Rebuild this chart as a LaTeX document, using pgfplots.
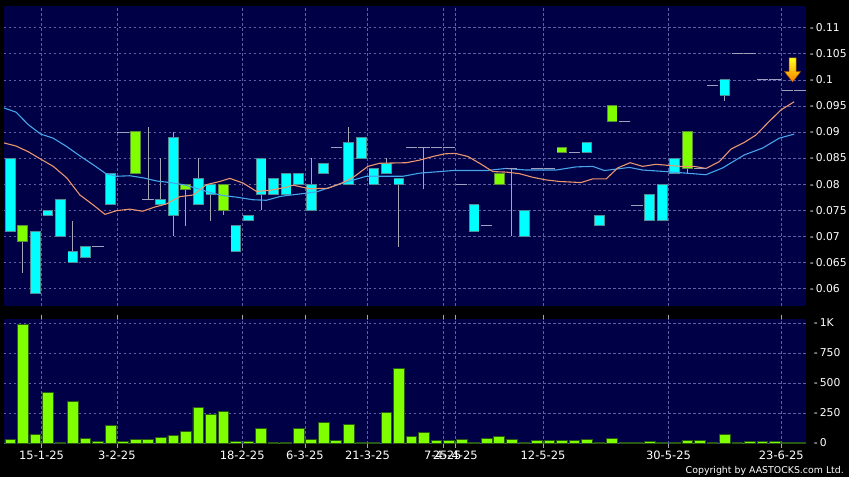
\documentclass[border=0pt]{standalone}
\usepackage{pgfplots}
\pgfplotsset{compat=1.18}
\usepackage{fontspec}
\setmainfont{DejaVu Sans}
\definecolor{navy}{RGB}{0,0,70}
\definecolor{gridc}{RGB}{96,96,160}
\definecolor{cy}{RGB}{0,255,255}
\definecolor{cyb}{RGB}{80,140,150}
\definecolor{gr}{RGB}{128,255,0}
\definecolor{grb}{RGB}{90,140,60}
\definecolor{wick}{RGB}{165,165,180}
\definecolor{dashc}{RGB}{160,160,190}
\definecolor{maone}{RGB}{235,150,110}
\definecolor{matwo}{RGB}{70,165,235}
\definecolor{volg}{RGB}{128,255,0}
\definecolor{volb}{RGB}{40,90,20}
\pgfplotsset{candle/.style={only marks, mark=o, mark options={draw opacity=0, fill opacity=0},
  error bars/.cd, y dir=plus, y explicit, error mark=none}}
\begin{document}
\begin{tikzpicture}
\fill[black] (0pt,0pt) rectangle (850pt,478pt);
% ---------- price panel ----------
\begin{axis}[
  at={(4pt,172pt)}, anchor=south west, scale only axis,
  width=803.3pt, height=300pt,
  xmin=-0.5, xmax=63.5, ymin=0.05669, ymax=0.11416,
  axis background/.style={fill=navy},
  axis line style={draw=none},
  xtick={2.5,8.5,18.5,23.5,28.5,34.5,35.5,42.5,52.5,61.5},
  xticklabels={},
  ytick={0.06,0.065,0.07,0.075,0.08,0.085,0.09,0.095,0.1,0.105,0.11},
  yticklabels={-\kern2pt 0.06,-\kern2pt 0.065,-\kern2pt 0.07,-\kern2pt 0.075,-\kern2pt 0.08,-\kern2pt 0.085,-\kern2pt 0.09,-\kern2pt 0.095,-\kern2pt 0.1,-\kern2pt 0.105,-\kern2pt 0.11},
  yticklabel pos=right,
  major tick length=0pt,
  tick style={draw=none},
  grid=major,
  grid style={gridc, line width=0.6pt, dash pattern=on 2.5pt off 2.5pt},
  ticklabel style={text=white, font=\fontsize{10.8}{12}\selectfont},
]
% wicks
\addplot[candle, error bar style={draw=wick, line width=1pt}]
  table[x=i, y=lo, y error plus expr=\thisrow{hi}-\thisrow{lo}] {
i lo hi
1 0.063 0.072
5 0.065 0.073
11 0.077 0.091
12 0.076 0.085
13 0.070 0.090
14 0.072 0.080
15 0.076 0.085
16 0.073 0.080
17 0.074 0.080
20 0.075 0.085
24 0.075 0.085
27 0.080 0.091
30 0.082 0.085
31 0.068 0.081
33 0.079 0.087
40 0.070 0.083
54 0.082 0.090
57 0.096 0.100
};
% cyan bodies: border then fill
\addplot[candle, error bar style={draw=cyb, line width=10.7pt}]
  table[x=i, y expr=\thisrow{b}-0.0001, y error plus expr=\thisrow{t}-\thisrow{b}+0.0002] {
i b t
0 0.071 0.085
2 0.059 0.071
3 0.074 0.075
4 0.070 0.077
5 0.065 0.067
6 0.066 0.068
8 0.076 0.082
12 0.076 0.077
13 0.074 0.089
15 0.076 0.081
16 0.078 0.080
18 0.067 0.072
19 0.073 0.074
20 0.078 0.085
21 0.078 0.081
22 0.078 0.082
23 0.080 0.082
24 0.075 0.080
25 0.082 0.084
27 0.080 0.088
28 0.085 0.089
29 0.080 0.083
30 0.082 0.084
31 0.080 0.081
37 0.071 0.076
41 0.070 0.075
46 0.086 0.088
47 0.072 0.074
51 0.073 0.078
52 0.073 0.080
53 0.082 0.085
57 0.097 0.100
};
\addplot[candle, error bar style={draw=cy, line width=9pt}]
  table[x=i, y expr=\thisrow{b}+0.0001, y error plus expr=\thisrow{t}-\thisrow{b}-0.0002] {
i b t
0 0.071 0.085
2 0.059 0.071
3 0.074 0.075
4 0.070 0.077
5 0.065 0.067
6 0.066 0.068
8 0.076 0.082
12 0.076 0.077
13 0.074 0.089
15 0.076 0.081
16 0.078 0.080
18 0.067 0.072
19 0.073 0.074
20 0.078 0.085
21 0.078 0.081
22 0.078 0.082
23 0.080 0.082
24 0.075 0.080
25 0.082 0.084
27 0.080 0.088
28 0.085 0.089
29 0.080 0.083
30 0.082 0.084
31 0.080 0.081
37 0.071 0.076
41 0.070 0.075
46 0.086 0.088
47 0.072 0.074
51 0.073 0.078
52 0.073 0.080
53 0.082 0.085
57 0.097 0.100
};
% green bodies
\addplot[candle, error bar style={draw=grb, line width=10.7pt}]
  table[x=i, y expr=\thisrow{b}-0.0001, y error plus expr=\thisrow{t}-\thisrow{b}+0.0002] {
i b t
1 0.069 0.072
10 0.082 0.090
14 0.079 0.080
17 0.075 0.080
39 0.080 0.082
44 0.086 0.087
48 0.092 0.095
54 0.083 0.090
};
\addplot[candle, error bar style={draw=gr, line width=9pt}]
  table[x=i, y expr=\thisrow{b}+0.0001, y error plus expr=\thisrow{t}-\thisrow{b}-0.0002] {
i b t
1 0.069 0.072
10 0.082 0.090
14 0.079 0.080
17 0.075 0.080
39 0.080 0.082
44 0.086 0.087
48 0.092 0.095
54 0.083 0.090
};
% flat candles
\addplot[only marks, mark=-, mark size=5.7pt, mark options={draw=dashc, line width=0.9pt}]
  table[x=i, y=p] {
i p
7 0.068
9 0.090
11 0.077
26 0.087
32 0.087
33 0.087
34 0.087
35 0.087
36 0.080
38 0.072
40 0.083
42 0.083
43 0.083
45 0.086
49 0.092
50 0.076
55 0.083
56 0.099
58 0.105
59 0.105
60 0.100
61 0.100
62 0.098
63 0.098
};
% moving averages
\addplot[matwo, line width=1.1pt] table {
x y
-0.5 0.0946
0.46 0.0938
1.44 0.0914
2.42 0.0896
3.43 0.0888
4.50 0.0872
5.56 0.0854
6.62 0.0837
7.63 0.0820
8.48 0.0815
9.54 0.0816
10.6 0.0812
11.67 0.0806
12.73 0.0803
13.79 0.0799
14.85 0.0792
15.91 0.0784
16.97 0.0778
18.04 0.0775
19.36 0.0770
20.43 0.0769
21.49 0.0776
22.03 0.0778
24.42 0.0785
26.54 0.0802
28.40 0.0815
31.32 0.0815
32.65 0.0821
35.30 0.0826
37.96 0.0826
39.56 0.0830
41.15 0.0827
43.54 0.0827
45.13 0.0833
46.46 0.0834
47.39 0.0826
49.38 0.0832
50.44 0.0827
52.30 0.0824
53.90 0.0821
55.49 0.0818
56.82 0.0831
58.55 0.0856
60.0 0.0869
61.33 0.0888
62.53 0.0896
};
\addplot[maone, line width=1.1pt] table {
x y
-0.5 0.0879
0.46 0.0873
1.44 0.0862
2.42 0.0848
3.43 0.0834
4.50 0.0812
5.56 0.0779
6.62 0.0760
7.55 0.0742
8.48 0.0749
9.54 0.0752
10.55 0.0748
11.53 0.0756
12.46 0.0762
13.52 0.0776
14.58 0.0779
15.65 0.0799
16.71 0.0805
17.51 0.0811
18.57 0.0802
19.64 0.0786
20.7 0.0788
22.03 0.0794
22.56 0.0798
23.88 0.0791
25.34 0.0792
26.54 0.0803
27.47 0.0815
28.53 0.0834
29.46 0.0840
31.59 0.0841
32.65 0.0846
33.71 0.0853
34.64 0.0858
35.49 0.0859
36.50 0.0853
37.43 0.0840
38.49 0.0824
39.56 0.0823
40.62 0.0820
41.68 0.0813
42.74 0.0808
43.80 0.0805
45.53 0.0803
46.46 0.0810
47.53 0.0810
48.45 0.0831
49.44 0.0841
50.44 0.0834
51.51 0.0838
52.43 0.0836
53.50 0.0834
54.56 0.0834
55.49 0.0830
56.55 0.0843
57.48 0.0867
58.55 0.0880
59.47 0.0894
60.53 0.0920
61.46 0.0942
62.53 0.0958
};
\end{axis}
% ---------- volume panel ----------
\begin{axis}[
  at={(4pt,33.7pt)}, anchor=south west, scale only axis,
  width=803.3pt, height=125.3pt,
  xmin=-0.5, xmax=63.5, ymin=-6.6, ymax=1035,
  axis background/.style={fill=navy},
  axis line style={draw=none},
  xtick={2.5,8.5,18.5,23.5,28.5,34.5,35.5,42.5,52.5,61.5},
  xticklabels={15-1-25,3-2-25,18-2-25,6-3-25,21-3-25,7-4-25,25-4-25,12-5-25,30-5-25,23-6-25},
  ytick={0,250,500,750,1000},
  yticklabels={-\kern2pt 0,-\kern2pt 250,-\kern2pt 500,-\kern2pt 750,-\kern2pt 1K},
  yticklabel pos=right,
  tick align=outside,
  major tick length=4pt,
  xtick style={draw=wick, line width=0.6pt},
  ytick style={draw=none},
  ymajorgrids, xmajorgrids,
  grid style={gridc, line width=0.6pt, dash pattern=on 2.5pt off 2.5pt},
  xticklabel style={text=white, font=\fontsize{11.5}{13}\selectfont},
  yticklabel style={text=white, font=\fontsize{10.8}{12}\selectfont},
]
\addplot[ybar, bar width=10.7pt, fill=volg, draw=volb, line width=0.8pt] table {
i v
0 27
1 985
2 68
3 422
4 3
5 345
6 37
7 15
8 143
9 15
10 27
11 27
12 43
13 65
14 93
15 295
16 240
17 262
18 15
19 12
20 120
21 8
22 8
23 118
24 30
25 168
26 21
27 154
28 8
29 8
30 251
31 617
32 51
33 85
34 21
35 24
36 27
37 3
38 40
39 51
40 27
41 8
42 21
43 24
44 21
45 21
46 30
47 5
48 38
49 5
50 5
51 12
52 8
53 8
54 21
55 21
56 3
57 68
58 3
59 12
60 12
61 12
62 5
63 2
};
\end{axis}
% arrow marker and copyright
\draw[draw=orange!70!black, line width=0.5pt, top color=yellow!90!white, bottom color=orange]
  (790pt,420pt) -- (797pt,420pt) -- (797pt,406.3pt) -- (801.5pt,406.3pt)
  -- (793.5pt,396pt) -- (785.5pt,406.3pt) -- (790pt,406.3pt) -- cycle;
\node[anchor=east, inner sep=0pt, text=white, font=\fontsize{9.4}{11}\selectfont] at (845pt,6.5pt) {Copyright by AASTOCKS.com Ltd.};
\end{tikzpicture}
\end{document}
